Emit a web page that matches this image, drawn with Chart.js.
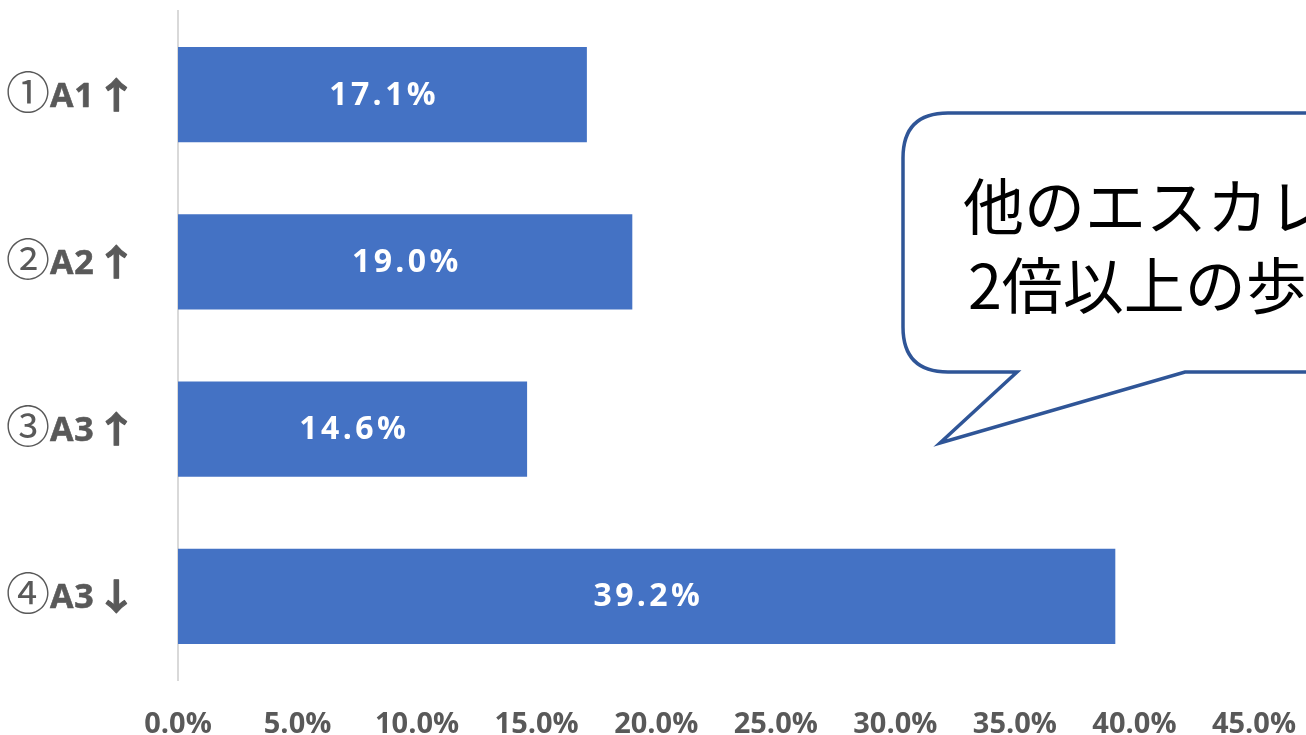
<!DOCTYPE html>
<html>
<head>
<meta charset="utf-8">
<script src="https://cdn.jsdelivr.net/npm/chart.js@4"></script>
<style>
  html, body { margin: 0; padding: 0; background: #fff; }
  #wrap { width: 1306px; height: 735px; }
</style>
</head>
<body>
<div id="wrap"><canvas id="myChart" width="1306" height="735"></canvas></div>
<script>
const categories = ["①A1↑", "②A2↑", "③A3↑", "④A3↓"];
const ratios = [17.1, 19.0, 14.6, 39.2];
const calloutLines = ["他のエスカレ", "2倍以上の歩"];

const latinFont = '"Open Sans", sans-serif';
const jpFont = '"Noto Sans CJK JP", sans-serif';
const gray = "#595959";

// wider spacing for the tick labels, like the original
const spacing = {
  id: "spacing",
  beforeInit(chart) { chart.ctx.letterSpacing = "2.5px"; }
};

// white percentage labels in the middle of each bar
const barLabels = {
  id: "barLabels",
  afterDatasetsDraw(chart) {
    const c = chart.ctx;
    const meta = chart.getDatasetMeta(0);
    c.save();
    c.letterSpacing = "3.4px";
    c.fillStyle = "#ffffff";
    c.font = "bold 32px " + latinFont;
    c.textAlign = "center";
    c.textBaseline = "middle";
    meta.data.forEach((bar, i) => {
      const x = (bar.x + bar.base) / 2 + 1.7;
      c.fillText(ratios[i].toFixed(1) + "%", x, bar.y + 1);
    });
    c.restore();
  }
};

// category labels: circled number + name + arrow in mixed fonts
const catLabels = {
  id: "catLabels",
  afterDraw(chart) {
    const c = chart.ctx;
    const y = chart.scales.y;
    c.save();
    c.fillStyle = gray;
    c.strokeStyle = gray;
    c.lineJoin = "round";
    c.textBaseline = "alphabetic";
    c.textAlign = "left";
    categories.forEach((lab, i) => {
      const base = y.getPixelForTick(i) + 12;
      const num = lab[0], name = lab.slice(1, -1), arrow = lab.slice(-1);
      const parts = [
        { t: num, f: "44px " + jpFont, ls: "0px", dy: 2, sx: 1, lw: 0 },
        { t: name, f: "bold 34px " + latinFont, ls: "1px", dy: 0, sx: 1, lw: 0.6 },
        { t: arrow, f: "bold 36px " + jpFont, ls: "0px", dy: 2, sx: 1.2, lw: 1 }
      ];
      let w = 0;
      parts.forEach(p => { c.font = p.f; c.letterSpacing = p.ls; p.w = c.measureText(p.t).width * p.sx; w += p.w; });
      let x = 138 - w;
      parts.forEach(p => {
        c.font = p.f; c.letterSpacing = p.ls;
        c.save();
        c.translate(x, base + p.dy);
        c.scale(p.sx, 1);
        c.fillText(p.t, 0, 0);
        if (p.lw) { c.lineWidth = p.lw; c.strokeText(p.t, 0, 0); }
        c.restore();
        x += p.w;
      });
    });
    c.restore();
  }
};

// speech bubble on the right
const callout = {
  id: "callout",
  afterDraw(chart) {
    const c = chart.ctx;
    c.save();
    c.letterSpacing = "0px";
    const l = 903, t = 113, r = 1360, b = 372, rad = 45;
    c.beginPath();
    c.moveTo(l + rad, t);
    c.lineTo(r, t);
    c.lineTo(r, b);
    c.lineTo(1185, b);
    c.lineTo(940, 443);
    c.lineTo(1017, b);
    c.lineTo(l + rad, b);
    c.quadraticCurveTo(l, b, l, b - rad);
    c.lineTo(l, t + rad);
    c.quadraticCurveTo(l, t, l + rad, t);
    c.closePath();
    c.fillStyle = "#ffffff";
    c.fill();
    c.lineWidth = 3.5;
    c.strokeStyle = "#2f5597";
    c.stroke();
    c.fillStyle = "#000000";
    c.font = "61px " + jpFont;
    c.textAlign = "left";
    c.textBaseline = "middle";
    c.fillText(calloutLines[0], 963, 207);
    c.fillText(calloutLines[1], 968, 286);
    c.restore();
  }
};

const ctx = document.getElementById("myChart");
new Chart(ctx, {
  type: "bar",
  data: {
    labels: categories,
    datasets: [
      {
        data: ratios,
        backgroundColor: "#4472c4",
        borderWidth: 0,
        categoryPercentage: 1,
        barPercentage: 0.57
      }
    ]
  },
  options: {
    indexAxis: "y",
    responsive: false,
    animation: false,
    layout: { padding: { top: 11, right: 52, left: 0, bottom: 0 } },
    plugins: {
      legend: { display: false },
      tooltip: { enabled: false }
    },
    scales: {
      x: {
        min: 0,
        max: 45,
        ticks: {
          stepSize: 5,
          padding: 27,
          color: gray,
          font: { family: latinFont, size: 29, weight: "bold" },
          callback: (v) => v.toFixed(1) + "%"
        },
        grid: { display: false, drawTicks: false },
        border: { display: false },
        afterFit(scale) {
          scale.height = 55;
          scale.paddingLeft = 0;
          scale.paddingRight = 0;
        }
      },
      y: {
        ticks: { display: false },
        grid: { display: false, drawTicks: false },
        border: { display: true, color: "#d9d9d9", width: 2 },
        afterFit(scale) {
          scale.width = 178;
          scale.paddingTop = 0;
          scale.paddingBottom = 0;
        }
      }
    }
  },
  plugins: [spacing, barLabels, catLabels, callout]
});
</script>
</body>
</html>
